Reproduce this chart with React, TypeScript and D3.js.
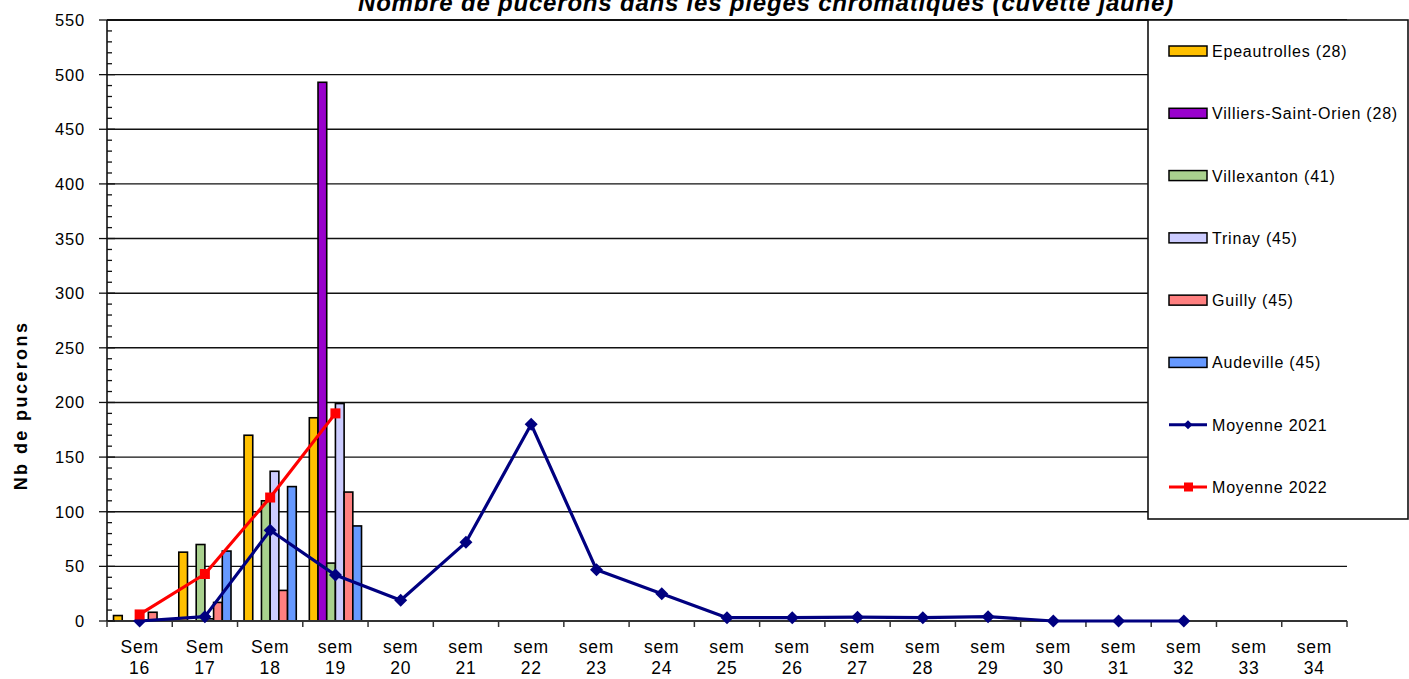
import React, { useEffect, useRef } from 'react';
import * as d3 from 'd3';

// weeks on the x axis
const weeks = ['16', '17', '18', '19', '20', '21', '22', '23', '24', '25', '26', '27', '28', '29', '30', '31', '32', '33', '34'];
const weekPrefix = ['Sem', 'Sem', 'Sem', 'sem', 'sem', 'sem', 'sem', 'sem', 'sem', 'sem', 'sem', 'sem', 'sem', 'sem', 'sem', 'sem', 'sem', 'sem', 'sem'];
const yTicks = [0, 50, 100, 150, 200, 250, 300, 350, 400, 450, 500, 550];

// trap counts 2022 (weeks 16..19)
const epeautrolles = [5, 63, 170, 186];
const villiers = [0, 0, 0, 493];
const villexanton = [0, 70, 110, 53];
const trinay = [0, 2, 137, 199];
const guilly = [8, 17, 28, 118];
const audeville = [0, 64, 123, 87];

// averages
const moyenne2021 = [0, 4, 83, 42, 19, 72, 180, 47, 25, 3, 3, 3.5, 3, 4, 0, 0, 0];
const moyenne2022 = [6, 43, 113, 190];

interface BarSeries {
  name: string;
  color: string;
  values: number[];
}

const barSeries: BarSeries[] = [
  { name: 'Epeautrolles (28)', color: '#FFC000', values: epeautrolles },
  { name: 'Villiers-Saint-Orien (28)', color: '#9900CC', values: villiers },
  { name: 'Villexanton (41)', color: '#A9D18E', values: villexanton },
  { name: 'Trinay (45)', color: '#CCCCFF', values: trinay },
  { name: 'Guilly (45)', color: '#FF8080', values: guilly },
  { name: 'Audeville (45)', color: '#6699FF', values: audeville },
];

const FONT = '"Liberation Sans", Arial, sans-serif';

const App: React.FC = () => {
  const svgRef = useRef<SVGSVGElement>(null);
  const width = 1409;
  const height = 679;

  useEffect(() => {
    if (!svgRef.current) return;
    const svg = d3.select(svgRef.current);
    svg.selectAll('*').remove();

    const left = 107;
    const right = 1347;
    const top = 20;
    const bottom = 621;

    const x0 = d3.scaleBand<string>().domain(weeks).range([left, right]).paddingInner(0).paddingOuter(0);
    const x1 = d3
      .scaleBand<string>()
      .domain(barSeries.map((s) => s.name))
      .range([0, x0.bandwidth()])
      .paddingInner(0)
      .paddingOuter(0.75);
    const y = d3.scaleLinear().domain([0, 550]).range([bottom, top]);
    const cx = (i: number) => (x0(weeks[i]) as number) + x0.bandwidth() / 2;

    // grid lines
    svg.append('g')
      .selectAll('line')
      .data(yTicks.filter((t) => t > 0))
      .enter()
      .append('line')
      .attr('x1', left)
      .attr('x2', right)
      .attr('y1', (d) => y(d))
      .attr('y2', (d) => y(d))
      .attr('stroke', '#111')
      .attr('stroke-width', (d) => (d === 550 ? 2 : 1.4));

    // bars
    barSeries.forEach((s) => {
      svg.append('g')
        .selectAll('rect')
        .data(s.values.map((v, i) => ({ v, i })).filter((d) => d.v > 0))
        .enter()
        .append('rect')
        .attr('x', (d) => (x0(weeks[d.i]) as number) + (x1(s.name) as number))
        .attr('y', (d) => y(d.v))
        .attr('width', x1.bandwidth())
        .attr('height', (d) => y(0) - y(d.v))
        .attr('fill', s.color)
        .attr('stroke', '#000')
        .attr('stroke-width', 1.6);
    });

    // axes
    svg.append('line')
      .attr('x1', left).attr('x2', left).attr('y1', top).attr('y2', bottom)
      .attr('stroke', '#111').attr('stroke-width', 1.6);
    svg.append('line')
      .attr('x1', left).attr('x2', right).attr('y1', bottom).attr('y2', bottom)
      .attr('stroke', '#333').attr('stroke-width', 2.2);

    // y ticks (major + minor)
    svg.append('g')
      .selectAll('line')
      .data(d3.range(0, 551, 10))
      .enter()
      .append('line')
      .attr('x1', (d) => (d % 50 === 0 ? left - 8 : left))
      .attr('x2', (d) => (d % 50 === 0 ? left + 8 : left + 5))
      .attr('y1', (d) => y(d))
      .attr('y2', (d) => y(d))
      .attr('stroke', '#111')
      .attr('stroke-width', 1.3);

    svg.append('g')
      .selectAll('text')
      .data(yTicks)
      .enter()
      .append('text')
      .attr('x', 85)
      .attr('y', (d) => y(d) + 6)
      .attr('text-anchor', 'end')
      .style('font-family', FONT)
      .style('font-size', '16.5px')
      .style('letter-spacing', '0.8px')
      .attr('fill', '#000')
      .text((d) => d);

    // x ticks at band edges
    svg.append('g')
      .selectAll('line')
      .data(d3.range(0, weeks.length + 1))
      .enter()
      .append('line')
      .attr('x1', (i) => left + i * x0.step())
      .attr('x2', (i) => left + i * x0.step())
      .attr('y1', bottom)
      .attr('y2', bottom + 6)
      .attr('stroke', '#333')
      .attr('stroke-width', 1.5);

    const xl = svg.append('g')
      .selectAll('text')
      .data(weeks.map((w, i) => ({ w, i })))
      .enter()
      .append('text')
      .attr('text-anchor', 'middle')
      .style('font-family', FONT)
      .style('font-size', '17.5px')
      .style('letter-spacing', '0.8px')
      .attr('fill', '#000');
    xl.append('tspan').attr('x', (d) => cx(d.i)).attr('y', 653).text((d) => weekPrefix[d.i]);
    xl.append('tspan').attr('x', (d) => cx(d.i)).attr('y', 674).text((d) => d.w);

    // average lines
    const line = d3
      .line<number | null>()
      .defined((d) => d !== null)
      .x((_, i) => cx(i))
      .y((d) => y(d as number));

    const diamond = (px: number, py: number, r: number) =>
      `M${px},${py - r}L${px + r},${py}L${px},${py + r}L${px - r},${py}Z`;

    svg.append('path')
      .datum(moyenne2021)
      .attr('d', line)
      .attr('fill', 'none')
      .attr('stroke', '#000080')
      .attr('stroke-width', 3.2)
      .attr('stroke-linejoin', 'round');
    svg.append('g')
      .selectAll('path')
      .data(moyenne2021)
      .enter()
      .append('path')
      .attr('d', (d, i) => diamond(cx(i), y(d), 6.5))
      .attr('fill', '#000080');

    svg.append('path')
      .datum(moyenne2022)
      .attr('d', line)
      .attr('fill', 'none')
      .attr('stroke', '#FF0000')
      .attr('stroke-width', 3.2)
      .attr('stroke-linejoin', 'round');
    svg.append('g')
      .selectAll('rect')
      .data(moyenne2022)
      .enter()
      .append('rect')
      .attr('x', (_, i) => cx(i) - 5)
      .attr('y', (d) => y(d) - 5)
      .attr('width', 10)
      .attr('height', 10)
      .attr('fill', '#FF0000');

    // y label
    svg.append('text')
      .attr('transform', `translate(27, ${(322 + 489) / 2}) rotate(-90)`)
      .attr('text-anchor', 'middle')
      .style('font-family', FONT)
      .style('font-size', '18px')
      .style('font-weight', 'bold')
      .style('letter-spacing', '2.4px')
      .attr('fill', '#000')
      .text('Nb de pucerons');

    // title (cut by the top edge, as in the source)
    svg.append('text')
      .attr('x', 766)
      .attr('y', 11)
      .attr('text-anchor', 'middle')
      .style('font-family', FONT)
      .style('font-size', '24px')
      .style('font-weight', 'bold')
      .style('font-style', 'italic')
      .style('letter-spacing', '0.8px')
      .attr('fill', '#000')
      .text('Nombre de pucerons dans les pièges chromatiques (cuvette jaune)');

    // legend
    const legend = svg.append('g');
    legend.append('rect')
      .attr('x', 1148)
      .attr('y', 20)
      .attr('width', 260)
      .attr('height', 499)
      .attr('fill', '#fff')
      .attr('stroke', '#111')
      .attr('stroke-width', 1.6);

    const entries = [
      ...barSeries.map((s) => ({ name: s.name, color: s.color, kind: 'bar' })),
      { name: 'Moyenne 2021', color: '#000080', kind: 'diamond' },
      { name: 'Moyenne 2022', color: '#FF0000', kind: 'square' },
    ];
    const ly = d3.scaleLinear().domain([0, entries.length - 1]).range([51, 487]);

    entries.forEach((e, i) => {
      const yy = ly(i);
      if (e.kind === 'bar') {
        legend.append('rect')
          .attr('x', 1169).attr('y', yy - 5).attr('width', 38).attr('height', 10)
          .attr('fill', e.color).attr('stroke', '#000').attr('stroke-width', 1.5);
      } else {
        legend.append('line')
          .attr('x1', 1169).attr('x2', 1207).attr('y1', yy).attr('y2', yy)
          .attr('stroke', e.color).attr('stroke-width', 3);
        if (e.kind === 'diamond') {
          legend.append('path').attr('d', diamond(1188, yy, 4.5)).attr('fill', e.color);
        } else {
          legend.append('rect')
            .attr('x', 1184).attr('y', yy - 4.5).attr('width', 9).attr('height', 9)
            .attr('fill', e.color);
        }
      }
      legend.append('text')
        .attr('x', 1212)
        .attr('y', yy + 6)
        .style('font-family', FONT)
        .style('font-size', '16px')
        .style('letter-spacing', '0.8px')
        .attr('fill', '#000')
        .text(e.name);
    });
  }, []);

  return (
    <svg
      ref={svgRef}
      width={width}
      height={height}
      style={{ position: 'absolute', left: 0, top: 0, background: '#fff' }}
    />
  );
};

export default App;
